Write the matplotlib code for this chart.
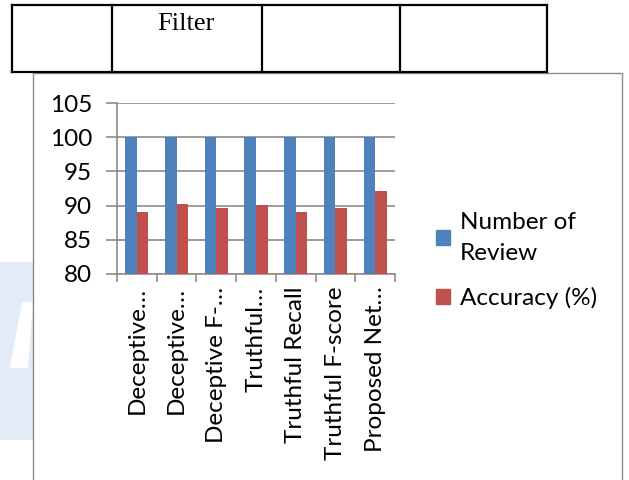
import numpy as np
import matplotlib
matplotlib.use("Agg")
import matplotlib.pyplot as plt
from matplotlib.lines import Line2D
from matplotlib.patches import Rectangle, Patch, Polygon

plt.rcParams['font.family'] = ['Lato', 'DejaVu Sans']

categories = ["Deceptive…", "Deceptive…", "Deceptive F-…", "Truthful…",
              "Truthful Recall", "Truthful F-score", "Proposed Net…"]
num_review = [100, 100, 100, 100, 100, 100, 100]
accuracy = [89.1, 90.3, 89.7, 90.1, 89.0, 89.6, 92.1]
series_names = ["Number of\nReview", "Accuracy (%)"]

W, H = 629, 480
fig = plt.figure(figsize=(W / 100, H / 100), dpi=100)

# table border at top of page
tcol = "black"
xs = [12, 112, 262, 400, 547]
for x in xs:
    fig.add_artist(Line2D([x / W, x / W], [1 - 5 / H, 1 - 72 / H], color=tcol, lw=1.6))
for y in [5, 72]:
    fig.add_artist(Line2D([12 / W, 547 / W], [1 - y / H, 1 - y / H], color=tcol, lw=1.6))
fig.text(186 / W, 1 - 30 / H, "Filter", family="Liberation Serif", fontsize=19,
         ha="center", va="baseline")

# faint watermark on the left
fig.add_artist(Rectangle((0, 1 - 440 / H), 33 / W, 178 / H, facecolor="#e2ebf6",
                         edgecolor="none", zorder=-1))
fig.add_artist(Polygon([(22 / W, 1 - 302 / H), (33 / W, 1 - 302 / H),
                        (28 / W, 1 - 368 / H), (10 / W, 1 - 368 / H)],
                       facecolor="white", edgecolor="none", zorder=-1))

# chart frame
fig.add_artist(Rectangle((33 / W, -0.01), (622 - 33) / W, 1 - 73 / H + 0.01,
                         facecolor="none", edgecolor="#8c8c8c", lw=1))

ax = fig.add_axes([117 / W, 1 - 274 / H, (395 - 117) / W, (274 - 103) / H])
x = np.arange(len(categories))
bw = 0.29
ax.bar(x - bw / 2, num_review, bw, color="#4F81BD", zorder=3)
ax.bar(x + bw / 2, accuracy, bw, color="#C0504D", zorder=3)

ax.set_xlim(-0.5, len(categories) - 0.5)
ax.set_ylim(80, 105)
ax.set_yticks([80, 85, 90, 95, 100, 105])
ax.yaxis.grid(True, color="#8c8c8c", lw=1.2, zorder=0)
for s in ["top", "right"]:
    ax.spines[s].set_visible(False)
for s in ["left", "bottom"]:
    ax.spines[s].set_color("#8c8c8c")
    ax.spines[s].set_linewidth(1.2)
ax.tick_params(axis="y", length=8, color="#8c8c8c", width=1.2, labelsize=17.5, pad=10)
ax.set_xticks(x)
ax.set_xticklabels(categories, rotation=90, va="top", fontsize=17.5)
ax.tick_params(axis="x", which="major", length=0, pad=9)
ax.set_xticks(np.arange(-0.5, len(categories)), minor=True)
ax.tick_params(axis="x", which="minor", length=6, color="#8c8c8c", width=1.2)

handles = [Patch(color="#4F81BD"), Patch(color="#C0504D")]
leg = fig.legend(handles, series_names, loc="upper left", bbox_to_anchor=(426 / W, 1 - 202 / H),
                 frameon=False, fontsize=17.5, handlelength=0.6, handleheight=0.6,
                 handletextpad=0.4, labelspacing=0.95, borderaxespad=0)
for t in leg.get_texts():
    t.set_linespacing(1.6)

fig.savefig("out.png", dpi=100)
